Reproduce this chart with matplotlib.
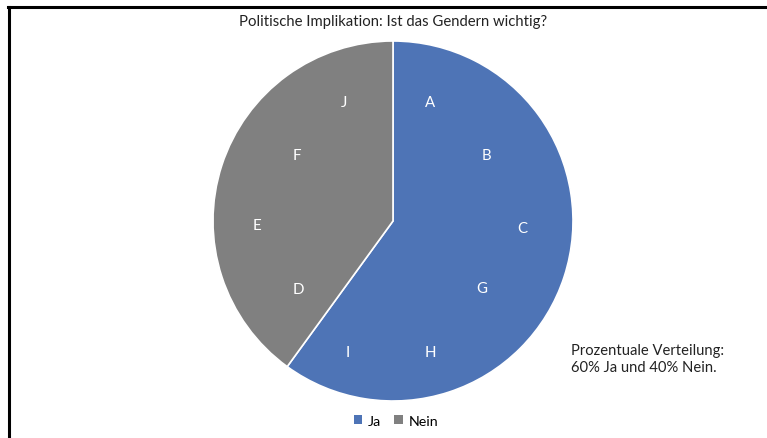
import matplotlib
matplotlib.use("Agg")
import matplotlib.pyplot as plt
from matplotlib.lines import Line2D
from matplotlib.patches import Patch

categories = ["Ja", "Nein"]
values = [60, 40]
colors = ["#4E74B6", "#808080"]
letters = ["A", "B", "C", "G", "H", "I", "D", "E", "F", "J"]
title = "Politische Implikation: Ist das Gendern wichtig?"
note = "Prozentuale Verteilung:\n60% Ja und 40% Nein."

# label positions in pie units (layout)
letter_pos = [(0.206, 0.662), (0.517, 0.368), (0.717, -0.038), (0.494, -0.371),
              (0.206, -0.727), (-0.250, -0.727), (-0.528, -0.377), (-0.756, -0.021),
              (-0.533, 0.368), (-0.272, 0.662)]

plt.rcParams['font.family'] = ['Lato', 'DejaVu Sans']

W, H = 767, 439
fig = plt.figure(figsize=(W / 100, H / 100), dpi=100)
fig.patch.set_facecolor("white")

cx, cy, r = 393, 222, 180
ax = fig.add_axes([(cx - r) / W, (H - cy - r) / H, 2 * r / W, 2 * r / H])
ax.pie(values, colors=colors, startangle=90, counterclock=False, radius=1,
       wedgeprops=dict(edgecolor="white", linewidth=1.2))
ax.set_xlim(-1, 1)
ax.set_ylim(-1, 1)
ax.set_aspect("equal")
ax.axis("off")

for lab, (x, y) in zip(letters, letter_pos):
    ax.text(x, y, lab, color="white", fontsize=10.8, ha="center", va="center")

fig.text(cx / W, 1 - 22 / H, title, ha="center", va="center", fontsize=10.7, color="#222222")
fig.text(571 / W, 1 - 359.5 / H, note, ha="left", va="center", fontsize=10.6,
         color="#222222", linespacing=1.35)

handles = [Patch(facecolor=c, edgecolor="none") for c in colors]
fig.legend(handles, categories, loc="center", bbox_to_anchor=(396 / W, 1 - 422 / H),
           ncol=2, frameon=False, fontsize=10.3, handlelength=0.6, handleheight=0.6,
           handletextpad=0.4, columnspacing=0.9)

# frame lines (top and left)
fig.add_artist(Line2D([8 / W, 1], [1 - 7.5 / H, 1 - 7.5 / H], color="black", lw=2.2,
                      transform=fig.transFigure))
fig.add_artist(Line2D([8.5 / W, 8.5 / W], [0, 1 - 7.5 / H], color="black", lw=2.2,
                      transform=fig.transFigure))

fig.savefig("out.png", dpi=100)
